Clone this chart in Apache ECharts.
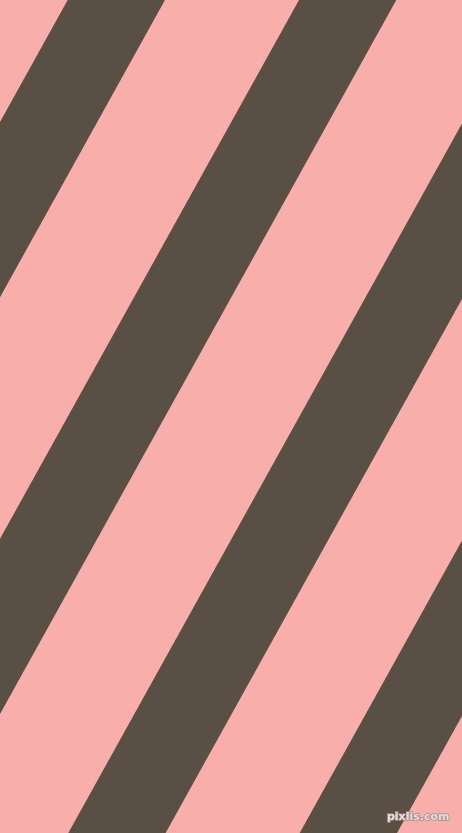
<!DOCTYPE html>
<html lang="en">
<head>
	<meta charset="UTF-8">
	<title>Stripes</title>
	<script src="https://cdn.jsdelivr.net/npm/echarts@6/dist/echarts.min.js"></script>
	<style>
		html,body{margin:0;padding:0;background:#F8AFAB;}
		#box{width:462px;height:833px;}
	</style>
</head>
<body>
<div id="box"></div>
<script>
	// edges of each dark band, x where it meets the top (y=0) and the bottom (y=833)
	let topLeft=[67.7, 299, 530.6, 762];
	let topRight=[165, 396.3, 627.9, 859.3];
	let bottomLeft=[-394.6, -163.3, 68.3, 299.7];
	let bottomRight=[-297.3, -66, 165.6, 397];
	let yTop=0, yBottom=833;

	let bands=topLeft.map((v,i)=>[v, topRight[i], bottomRight[i], bottomLeft[i]]);

	let charts=echarts.init(document.getElementById('box'));
	charts.setOption({
		backgroundColor:'#F8AFAB',
		animation:false,
		title:{
			text:'pixlis.com',
			right:6,
			bottom:4,
			textStyle:{
				color:'#eadada',
				fontSize:11,
				fontWeight:'bold',
				fontFamily:'DejaVu Sans',
				textBorderColor:'#a08e8c',
				textBorderWidth:1.5
			}
		},
		grid:{left:0,right:0,top:0,bottom:0},
		xAxis:{type:'value',min:0,max:462,show:false},
		yAxis:{type:'value',min:yTop,max:yBottom,inverse:true,show:false},
		series:[
			{
				type:'custom',
				clip:true,
				data:bands,
				renderItem:function (params,api) {
					let pts=[
						api.coord([api.value(0),yTop]),
						api.coord([api.value(1),yTop]),
						api.coord([api.value(2),yBottom]),
						api.coord([api.value(3),yBottom])
					];
					return {
						type:'polygon',
						shape:{points:pts},
						style:{fill:'#5A4F44'}
					};
				}
			}
		]
	});
</script>
</body>
</html>
